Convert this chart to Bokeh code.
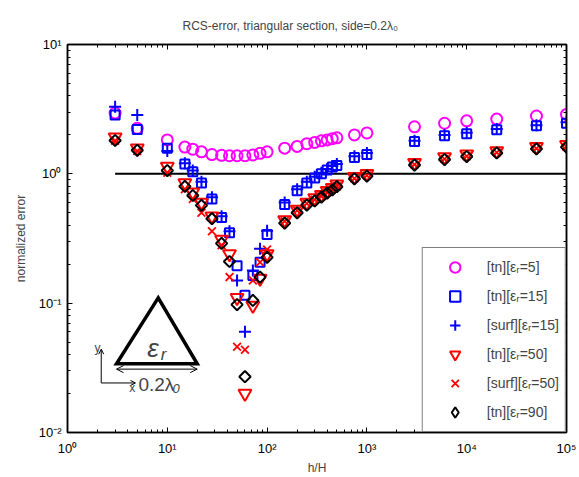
import numpy as np
from bokeh.plotting import figure
from bokeh.models import (LogAxis, Legend, LegendItem, CustomJSTickFormatter, Label,
                          Arrow, OpenHead, PolyAnnotation, FixedTicker, Range1d)
from bokeh.embed import file_html
from bokeh.resources import INLINE

# ---------------- data ----------------
h_over_H = [3, 5, 10, 15, 18, 22, 28, 35, 42, 50, 60, 72, 85, 100, 150, 200, 250, 300,
            350, 400, 450, 500, 750, 1000, 3000, 6000, 10000, 20000, 50000, 100000]

tn_eps5 = [2.95, 2.25, 1.83, 1.61, 1.55, 1.48, 1.41, 1.39, 1.38, 1.38, 1.38, 1.40, 1.44, 1.48,
           1.58, 1.63, 1.71, 1.75, 1.80, 1.83, 1.87, 1.90, 2.00, 2.07, 2.31, 2.46, 2.57, 2.65, 2.80, 2.88]
tn_eps15 = [2.85, 2.20, 1.58, 1.19, 1.04, 0.85, 0.64, 0.46, 0.35, 0.195, 0.115, 0.164, 0.207, 0.34,
            0.58, 0.74, 0.85, 0.93, 1.00, 1.07, 1.13, 1.16, 1.34, 1.41, 1.78, 1.97, 2.04, 2.19, 2.35, 2.46]
surf_eps15 = [3.30, 2.85, 1.50, 1.21, 1.06, 0.87, 0.66, 0.47, 0.36, 0.15, 0.060, 0.179, 0.263, 0.363,
              0.60, 0.76, 0.87, 0.95, 1.02, 1.09, 1.15, 1.19, 1.37, 1.45, 1.80, 2.00, 2.08, 2.22, 2.38, 2.50]
tn_eps50 = [1.92, 1.58, 1.14, 0.85, 0.72, 0.60, 0.47, 0.31, 0.24, 0.11, 0.020, 0.096, 0.155, 0.24,
            0.44, 0.53, 0.60, 0.65, 0.69, 0.74, 0.78, 0.83, 0.95, 1.00, 1.22, 1.35, 1.42, 1.50, 1.62, 1.68]
surf_eps50 = [1.80, 1.50, 1.02, 0.76, 0.64, 0.50, 0.36, 0.28, 0.159, 0.046, 0.0436, 0.15, 0.207, 0.26,
              0.43, 0.52, 0.59, 0.63, 0.67, 0.72, 0.76, 0.80, 0.92, 0.97, 1.18, 1.30, 1.37, 1.46, 1.57, 1.62]
tn_eps90 = [1.81, 1.52, 1.06, 0.80, 0.68, 0.57, 0.45, 0.29, 0.21, 0.0975, 0.027, 0.105, 0.159, 0.226,
            0.416, 0.50, 0.574, 0.617, 0.66, 0.71, 0.75, 0.795, 0.916, 0.96, 1.17, 1.29, 1.36, 1.45, 1.56, 1.61]

ref_x = [3, 100000]
ref_y = [1, 1]

legend_labels = ["[tn][εᵣ=5]", "[tn][εᵣ=15]", "[surf][εᵣ=15]",
                 "[tn][εᵣ=50]", "[surf][εᵣ=50]", "[tn][εᵣ=90]"]

x_major = [1, 10, 100, 1000, 10000, 100000]
y_major = [0.01, 0.1, 1, 10]

FONT = "Liberation Sans"

# ---------------- figure ----------------
p = figure(width=579, height=477, x_axis_type="log", y_axis_type="log",
           x_range=Range1d(1, 1e5), y_range=Range1d(0.01, 10),
           output_backend="svg", toolbar_location=None,
           min_border_left=67, min_border_right=13, min_border_top=44, min_border_bottom=42)
p.xgrid.visible = False
p.ygrid.visible = False
p.outline_line_color = "black"
p.outline_line_width = 1.5
p.background_fill_color = "white"
p.border_fill_color = "white"

x_minor = [k * d for d in x_major[:-1] for k in range(2, 10)]
y_minor = [k * d for d in y_major[:-1] for k in range(2, 10)]
xt = FixedTicker(ticks=x_major, minor_ticks=x_minor)
yt = FixedTicker(ticks=y_major, minor_ticks=y_minor)

pow_code = """
const e = Math.round(Math.log10(tick));
const sup = {"0":"\u2070","1":"\u00b9","2":"\u00b2","3":"\u00b3","4":"\u2074","5":"\u2075","-":"\u207b"};
return "10" + String(e).split("").map(c => sup[c]).join("");
"""
fmt = CustomJSTickFormatter(code=pow_code)
blank = CustomJSTickFormatter(code="return '';")

def style_axis(ax, labels=True):
    ax.major_tick_in = 5
    ax.major_tick_out = 0
    ax.minor_tick_in = 3
    ax.minor_tick_out = 0
    ax.axis_line_width = 1.5
    ax.major_tick_line_width = 1
    ax.minor_tick_line_width = 1
    ax.major_label_text_font = FONT
    ax.major_label_text_font_size = "13px"
    ax.major_label_text_color = "black"
    ax.axis_label_text_font = FONT
    ax.axis_label_text_font_size = "12px"
    ax.axis_label_text_font_style = "normal"
    if not labels:
        ax.major_label_standoff = 0

p.xaxis[0].ticker = xt
p.xaxis[0].formatter = fmt
p.xaxis[0].axis_label = "h/H"
p.xaxis[0].major_label_standoff = 8
p.xaxis[0].axis_label_standoff = 2
style_axis(p.xaxis[0])

p.yaxis[0].ticker = yt
p.yaxis[0].formatter = fmt
p.yaxis[0].axis_label = "normalized error"
p.yaxis[0].major_label_standoff = 6
p.yaxis[0].axis_label_standoff = 8
style_axis(p.yaxis[0])

top = LogAxis(ticker=xt, formatter=blank)
style_axis(top, labels=False)
p.add_layout(top, "above")
right = LogAxis(ticker=yt, formatter=blank)
style_axis(right, labels=False)
p.add_layout(right, "right")

p.title.text = "RCS-error, triangular section, side=0.2λ₀"
p.title.text_font = FONT
p.title.text_font_size = "12px"
p.title.text_font_style = "normal"
p.title.align = "left"
p.title.offset = 115
p.title.standoff = 24

# ---------------- data marks ----------------
p.line(ref_x, ref_y, line_color="black", line_width=2)

r1 = p.scatter(h_over_H, tn_eps5, marker="circle", size=11, fill_color=None,
               line_color="#FF00FF", line_width=2)
r2 = p.scatter(h_over_H, tn_eps15, marker="square", size=9, fill_color=None,
               line_color="#0000FF", line_width=2)
r3 = p.scatter(h_over_H, surf_eps15, marker="cross", size=12,
               line_color="#0000FF", line_width=2)
r4 = p.scatter(h_over_H, tn_eps50, marker="inverted_triangle", size=13, fill_color=None,
               line_color="#FF0000", line_width=2)
r5 = p.scatter(h_over_H, surf_eps50, marker="x", size=11,
               line_color="#FF0000", line_width=1.8)
r6 = p.scatter(h_over_H, tn_eps90, marker="square", angle=np.pi / 4, size=8, fill_color=None,
               line_color="black", line_width=2)
# hidden twin of the diamond series, used only for its legend swatch
# (legend swatches ignore the marker angle)
r6_key = p.scatter(h_over_H, tn_eps90, marker="diamond", size=12, fill_color=None,
                   line_color="black", line_width=2, visible=False)

legend = Legend(items=[LegendItem(label=l, renderers=[r]) for l, r in
                       zip(legend_labels, [r1, r2, r3, r4, r5, r6_key])],
                location="bottom_right", margin=0, padding=6, spacing=3,
                label_height=26, glyph_height=26, glyph_width=52, label_standoff=6,
                border_line_color="black", border_line_width=1,
                background_fill_color="white", background_fill_alpha=1.0,
                label_text_font=FONT, label_text_font_size="14px", click_policy="none")
p.add_layout(legend)

# ---------------- inset schematic (triangle, dimension, axes) ----------------
def L(lx):
    return 10 ** lx

tri = PolyAnnotation(xs=[L(0.909), L(0.491), L(1.30)], ys=[L(-0.959), L(-1.469), L(-1.469)],
                     fill_alpha=0, line_color="black", line_alpha=1.0, line_width=3.5,
                     line_join="miter")
p.add_layout(tri)

p.add_layout(Arrow(start=OpenHead(size=7, line_width=1), end=OpenHead(size=7, line_width=1),
                   x_start=L(0.491), y_start=L(-1.51), x_end=L(1.30), y_end=L(-1.51),
                   line_width=1, line_color="black"))
p.add_layout(Arrow(end=OpenHead(size=5, line_width=1), x_start=L(0.338), y_start=L(-1.617),
                   x_end=L(0.338), y_end=L(-1.356), line_width=1))
p.add_layout(Arrow(end=OpenHead(size=5, line_width=1), x_start=L(0.338), y_start=L(-1.617),
                   x_end=L(0.681), y_end=L(-1.617), line_width=1))

p.add_layout(Label(x=L(0.80), y=L(-1.348), text="ε", text_font=FONT, text_font_size="26px",
                   text_font_style="italic", text_baseline="alphabetic"))
p.add_layout(Label(x=L(0.935), y=L(-1.40), text="r", text_font=FONT, text_font_size="17px",
                   text_font_style="italic", text_baseline="alphabetic"))
p.add_layout(Label(x=L(0.711), y=L(-1.632), text="0.2λ", text_font=FONT, text_font_size="19px",
                   text_baseline="alphabetic"))
p.add_layout(Label(x=L(1.052), y=L(-1.66), text="0", text_font=FONT, text_font_size="13px",
                   text_font_style="italic", text_baseline="alphabetic"))
p.add_layout(Label(x=L(0.30), y=L(-1.348), text="y", text_font=FONT, text_font_size="12px",
                   text_align="center", text_baseline="middle"))
p.add_layout(Label(x=L(0.648), y=L(-1.655), text="x", text_font=FONT, text_font_size="12px",
                   text_align="center", text_baseline="middle"))

open("out.html", "w").write(file_html(p, INLINE))
